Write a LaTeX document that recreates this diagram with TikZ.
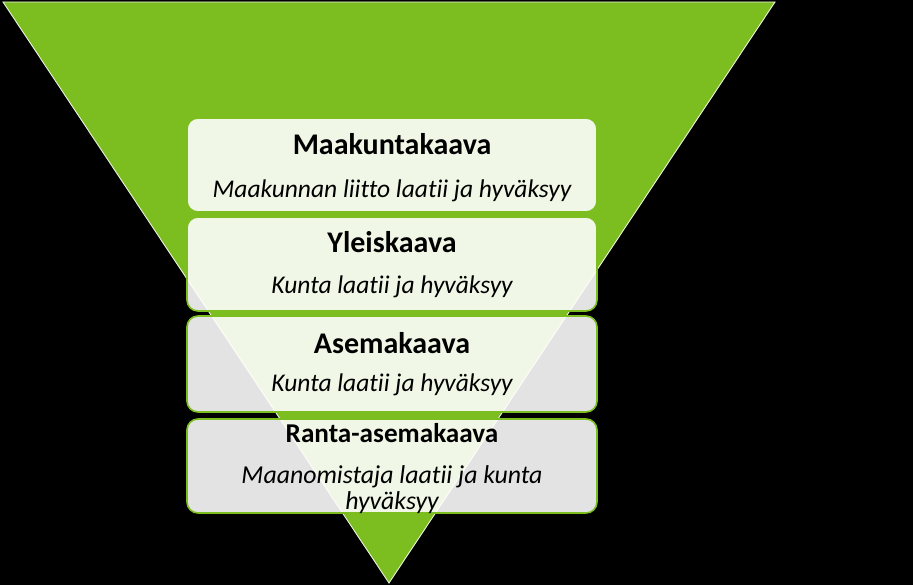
\documentclass[tikz,border=0pt]{standalone}
\usepackage{fontspec}
\setmainfont{Carlito}[Ligatures=NoCommon]
\definecolor{kgreen}{HTML}{7CBD1F}
\begin{document}
\begin{tikzpicture}[x=1pt,y=-1pt,
  planbox/.style={draw=kgreen, line width=1.6pt, rounded corners=11pt, fill=white, fill opacity=0.89,
     minimum width=410pt, minimum height=94pt, inner sep=0pt},
  ttl/.style={anchor=base, font=\fontsize{30}{33}\selectfont\bfseries, inner sep=0pt},
  sub/.style={anchor=base, font=\fontsize{25.5}{28}\selectfont\itshape, inner sep=0pt},
  ttlsm/.style={anchor=base, font=\fontsize{27.2}{30}\selectfont\bfseries, inner sep=0pt},
  subsm/.style={anchor=base, font=\fontsize{25.8}{28}\selectfont\itshape, inner sep=0pt}]
\useasboundingbox (0,0) rectangle (913,585);
\fill[black] (0,0) rectangle (913,585);
\fill[kgreen, draw=white!85!kgreen, line width=0.9pt] (3,2) -- (775,2) -- (389,583) -- cycle;
\node[planbox] (b1) at (392,165) {};
\node[planbox] (b2) at (392,264) {};
\node[planbox, minimum height=96pt] (b3) at (392,364) {};
\node[planbox] (b4) at (392,466) {};
\node[ttl] (t1) at (392,155) {Maakuntakaava};
\node[sub] (s1) at (392,198) {Maakunnan liitto laatii ja hyväksyy};
\node[ttl] (t2) at (392,253) {Yleiskaava};
\node[sub] (s2) at (392,294) {Kunta laatii ja hyväksyy};
\node[ttl] (t3) at (392,353) {Asemakaava};
\node[sub] (s3) at (392,391) {Kunta laatii ja hyväksyy};
\node[ttlsm] (t4) at (392,442) {Ranta-asemakaava};
\node[subsm] (s4a) at (392,483) {Maanomistaja laatii ja kunta};
\node[subsm] (s4b) at (392,509) {hyväksyy};
\end{tikzpicture}
\end{document}
